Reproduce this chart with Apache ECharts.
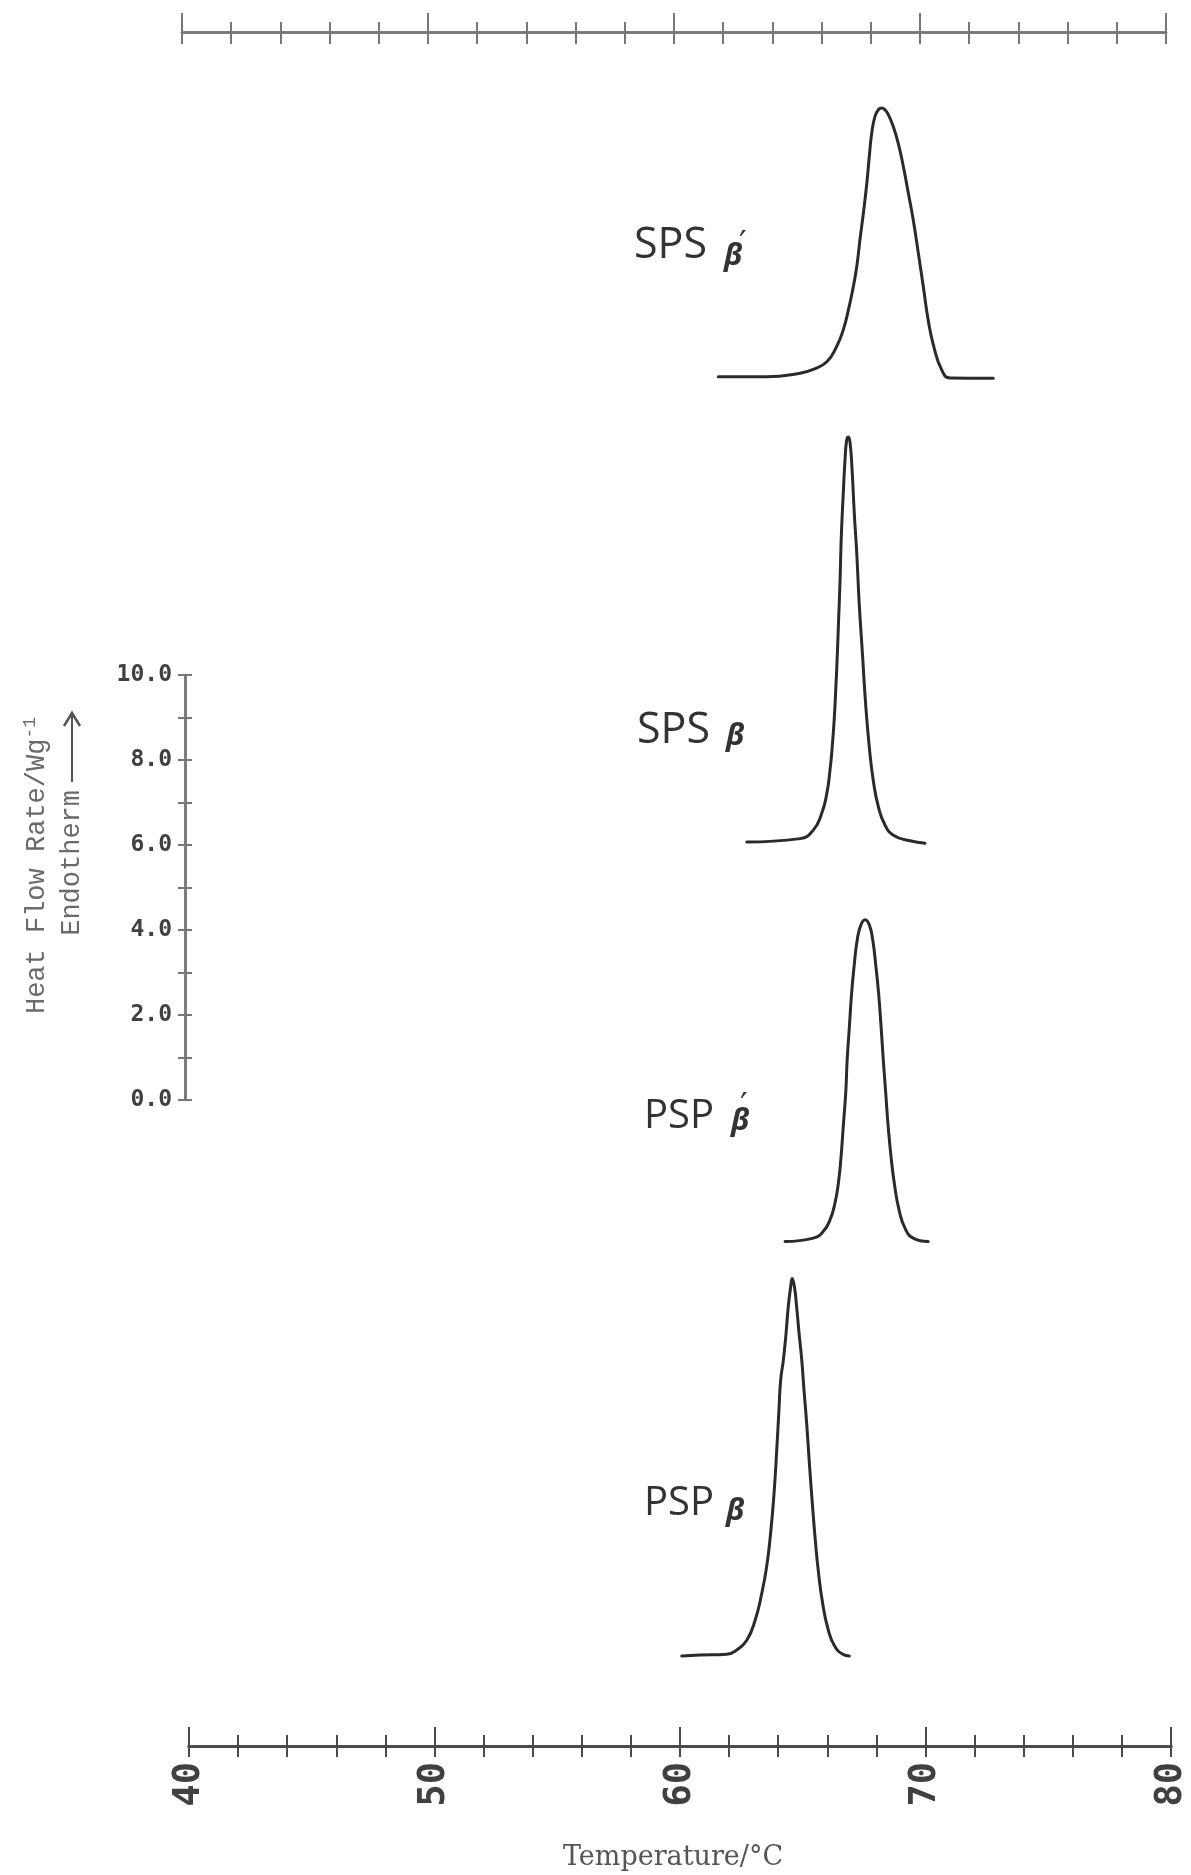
<!DOCTYPE html>
<html><head><meta charset="utf-8">
<script src="https://cdn.jsdelivr.net/npm/echarts@6/dist/echarts.min.js"></script>
<style>html,body{margin:0;padding:0;background:#fff}#c{width:1191px;height:1875px}</style>
</head><body><div id="c"></div>
<script>
// ---- data ----
const traceNames = ['SPS β′', 'SPS β', 'PSP β′', 'PSP β'];
// vertical offset (W/g) of each trace baseline in the stacked plot
const baselines = [16.99, 6.09, -3.33, -13.06];

const spsBetaPrimeT = [61.56, 63.53, 64.89, 65.43, 65.98, 66.38, 66.65, 66.86, 67.06, 67.20, 67.33, 67.47, 67.61, 67.71, 67.81, 67.94, 68.08, 68.22, 68.35, 68.49, 68.69, 68.89, 69.10, 69.30, 69.50, 69.71, 69.91, 70.11, 70.32, 70.66, 71.00, 72.76];
const spsBetaPrimeH = [0.03, 0.03, 0.11, 0.20, 0.38, 0.74, 1.13, 1.60, 2.15, 2.62, 3.25, 3.88, 4.58, 5.21, 5.76, 6.15, 6.31, 6.35, 6.31, 6.19, 5.91, 5.52, 4.97, 4.35, 3.72, 2.93, 2.15, 1.36, 0.78, 0.19, 0.00, -0.01];

const spsBetaT = [62.72, 64.89, 65.43, 65.77, 65.98, 66.11, 66.20, 66.28, 66.35, 66.41, 66.46, 66.52, 66.57, 66.65, 66.72, 66.79, 66.86, 66.93, 67.01, 67.10, 67.20, 67.30, 67.43, 67.56, 67.71, 67.87, 68.08, 68.35, 68.69, 69.37, 69.98];
const spsBetaH = [-0.02, 0.06, 0.26, 0.65, 1.12, 1.67, 2.22, 2.85, 3.63, 4.42, 5.20, 6.14, 7.16, 8.18, 8.96, 9.44, 9.51, 9.36, 8.73, 7.71, 6.77, 5.59, 4.42, 3.24, 2.22, 1.44, 0.81, 0.38, 0.14, 0.01, -0.05];

const pspBetaPrimeT = [64.28, 65.43, 65.84, 66.11, 66.31, 66.45, 66.55, 66.65, 66.75, 66.81, 66.90, 66.99, 67.09, 67.22, 67.37, 67.54, 67.71, 67.85, 67.98, 68.09, 68.19, 68.28, 68.38, 68.48, 68.61, 68.75, 68.92, 69.16, 69.50, 70.11];
const pspBetaPrimeH = [0.00, 0.08, 0.24, 0.51, 0.90, 1.37, 1.92, 2.71, 3.49, 4.28, 5.06, 5.84, 6.47, 7.10, 7.45, 7.57, 7.45, 7.10, 6.47, 5.84, 5.06, 4.28, 3.49, 2.71, 1.92, 1.29, 0.75, 0.32, 0.08, 0.00];

const pspBetaT = [60.07, 60.81, 61.90, 62.31, 62.72, 63.06, 63.33, 63.53, 63.69, 63.83, 63.94, 64.03, 64.10, 64.21, 64.32, 64.41, 64.51, 64.57, 64.66, 64.75, 64.85, 64.96, 65.05, 65.16, 65.27, 65.39, 65.50, 65.63, 65.81, 66.04, 66.31, 66.63, 66.90];
const pspBetaH = [-0.02, 0.00, 0.02, 0.12, 0.35, 0.82, 1.45, 2.08, 2.86, 3.80, 4.82, 5.76, 6.47, 6.94, 7.57, 8.20, 8.67, 8.86, 8.67, 8.20, 7.57, 6.94, 6.24, 5.45, 4.51, 3.57, 2.78, 2.00, 1.22, 0.59, 0.20, 0.02, -0.02];

const tempTicks = [40, 50, 60, 70, 80];
const heatTicks = [0, 2, 4, 6, 8, 10];

// ---- chart ----
const traces = [
  [spsBetaPrimeT, spsBetaPrimeH],
  [spsBetaT, spsBetaH],
  [pspBetaPrimeT, pspBetaPrimeH],
  [pspBetaT, pspBetaH]
];
const series = traces.map((tr, i) => ({
  type: 'line', name: traceNames[i], xAxisIndex: 0, yAxisIndex: 0,
  showSymbol: false, smooth: 0.5, animation: false,
  lineStyle: { color: '#2a2a2a', width: 3, join: 'round', cap: 'round' },
  data: tr[0].map((t, k) => [t, baselines[i] + tr[1][k]])
}));

const tickFont = { fontFamily: 'DejaVu Sans Mono', fontWeight: 'bold', color: '#404040' };
function xAx(grid, pos, inside, len, mlen, labels, col, w) {
  return {
    type: 'value', gridIndex: grid, position: pos, min: tempTicks[0], max: tempTicks[tempTicks.length - 1], interval: 10,
    axisLine: { show: true, onZero: false, lineStyle: { color: col, width: w } },
    axisTick: { show: true, inside: inside, length: len, lineStyle: { color: col, width: 2 } },
    minorTick: { show: true, splitNumber: 5, length: mlen, lineStyle: { color: col, width: 2 } },
    splitLine: { show: false },
    axisLabel: labels ? Object.assign({ show: true, rotate: 90, margin: 16, fontSize: 37 }, tickFont) : { show: false }
  };
}
function hiddenAx(grid) { return { type: 'value', gridIndex: grid, show: false, min: 0, max: 1 }; }
function yAx(grid, inside, labels) {
  return {
    type: 'value', gridIndex: grid, position: 'left', min: heatTicks[0], max: heatTicks[heatTicks.length - 1], interval: 1,
    axisLine: { show: true, onZero: false, lineStyle: { color: '#777', width: 2.5 } },
    axisTick: { show: true, inside: inside, length: 7, lineStyle: { color: '#777', width: 2 } },
    splitLine: { show: false },
    axisLabel: labels ? Object.assign({ show: true, margin: 13, fontSize: 23,
      formatter: v => (heatTicks.indexOf(v) >= 0 ? v.toFixed(1) : '') }, tickFont) : { show: false }
  };
}

const chart = echarts.init(document.getElementById('c'), null, { renderer: 'canvas' });
const lbl = (x, y, t, font) => ({ type: 'text', x: x, y: y, style: { text: t, font: font, fill: '#333', textVerticalAlign: 'middle' } });
const capF = '43px "Open Sans"', capP = '40px "Open Sans"', betaF = 'italic bold 30px "Open Sans"', primeF = '34px "DejaVu Sans"';
chart.setOption({
  backgroundColor: '#ffffff',
  animation: false,
  grid: [
    { left: 189, width: 982, top: 80, height: 1615 },       // 0 data
    { left: 189, width: 982, top: 1646, height: 100 },      // 1 bottom axis outward
    { left: 189, width: 982, top: 1646, height: 100 },      // 2 bottom axis inward
    { left: 182, width: 984, top: 32, height: 100 },        // 3 top axis outward
    { left: 182, width: 984, top: 32, height: 100 },        // 4 top axis inward
    { left: 185, width: 100, top: 675, height: 425 },       // 5 left axis outward
    { left: 185, width: 100, top: 675, height: 425 }        // 6 left axis inward
  ],
  xAxis: [
    { type: 'value', gridIndex: 0, show: false, min: 40, max: 80 },
    xAx(1, 'bottom', false, 11, 11, true, '#4a4a4a', 3.2),
    xAx(2, 'bottom', true, 19, 11, false, '#4a4a4a', 3.2),
    xAx(3, 'top', false, 19, 10, false, '#777', 2.5),
    xAx(4, 'top', true, 12, 12, false, '#777', 2.5),
    hiddenAx(5), hiddenAx(6)
  ],
  yAxis: [
    { type: 'value', gridIndex: 0, show: false, min: -14, max: 24 },
    hiddenAx(1), hiddenAx(2), hiddenAx(3), hiddenAx(4),
    yAx(5, false, true), yAx(6, true, false)
  ],
  series: series,
  graphic: [
    // curve labels
    lbl(634, 246, 'SPS', capF), lbl(724, 256, 'β', betaF), lbl(739, 246, '′', primeF),
    lbl(637, 731, 'SPS', capF), lbl(726, 736, 'β', betaF),
    lbl(644, 1117, 'PSP', capP), lbl(731, 1121, 'β', betaF), lbl(740, 1108, '′', primeF),
    lbl(644, 1504, 'PSP', capP), lbl(726, 1511, 'β', betaF),

    // axis titles
    { type: 'text', x: 673, y: 1858, style: { text: 'Temperature/°C', font: '27px "DejaVu Serif"', fill: '#555', textAlign: 'center', textVerticalAlign: 'middle' } },
    { type: 'text', x: 37, y: 717, rotation: Math.PI / 2, style: {
        text: 'Heat Flow Rate/Wg{s|-1}', font: '27px "Liberation Mono"', fill: '#6a6a6a', textAlign: 'right', textVerticalAlign: 'middle',
        rich: { s: { fontSize: 18, fontFamily: 'Liberation Mono', fill: '#6a6a6a', verticalAlign: 'top', padding: [0, 0, 14, 0] } } } },
    { type: 'text', x: 72, y: 790, rotation: Math.PI / 2, style: { text: 'Endotherm', font: '27px "Liberation Mono"', fill: '#6a6a6a', textAlign: 'right', textVerticalAlign: 'middle' } },
    { type: 'line', shape: { x1: 72, y1: 782, x2: 72, y2: 714 }, style: { stroke: '#555', lineWidth: 2 } },
    { type: 'polyline', shape: { points: [[64, 726], [72, 713], [80, 726]] }, style: { stroke: '#555', lineWidth: 2.5, fill: null } }
  ]
});
</script>
</body></html>
